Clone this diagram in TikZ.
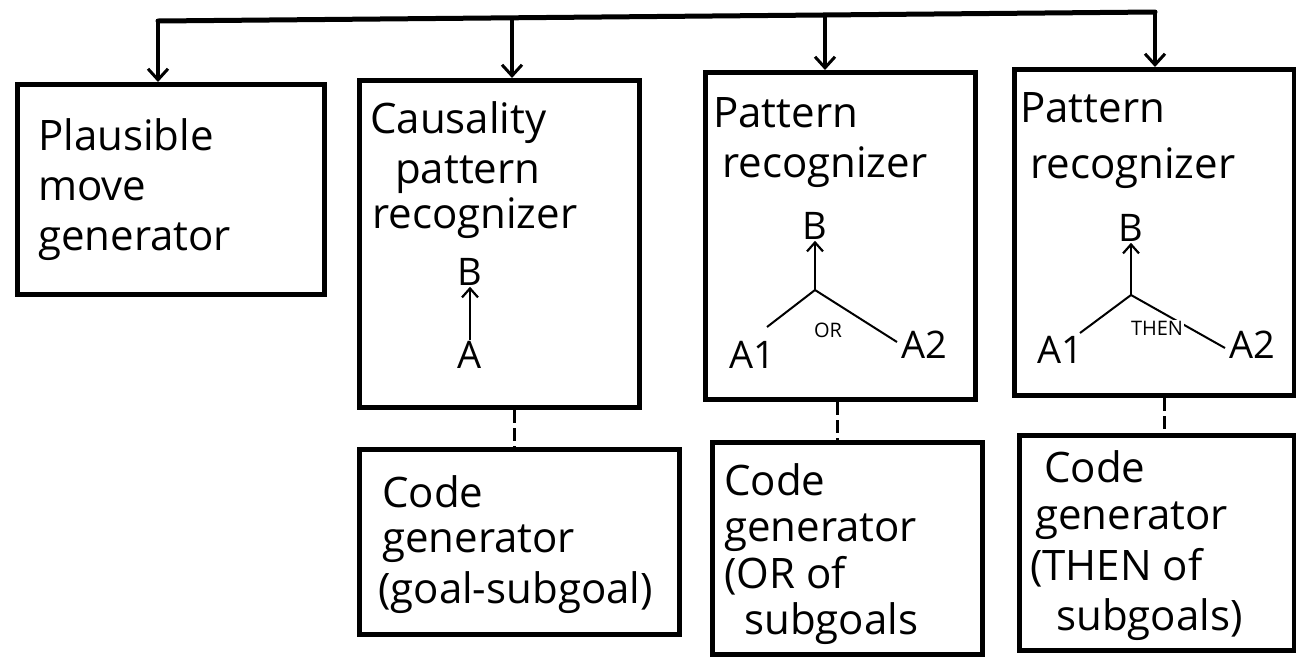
\documentclass[tikz,border=0pt]{standalone}
\usepackage{fontspec}
\setmainfont{Open Sans}
\usetikzlibrary{arrows.meta}

\tikzset{
  box/.style={draw, line width=5pt, rectangle, anchor=north west, inner sep=0pt},
  txt/.style={anchor=base west, inner sep=0pt, font=\fontsize{42}{50}\selectfont},
  sym/.style={inner sep=1pt, font=\fontsize{38}{44}\selectfont},
  tiny/.style={inner sep=1pt, font=\fontsize{20}{22}\selectfont},
  bus/.style={line width=5pt, line cap=round},
  drop/.style={line width=3.5pt, -{Straight Barb[length=11pt,width=20pt,line width=3pt]}},
  inner/.style={line width=2pt},
  up/.style={line width=2.5pt, -{Straight Barb[length=9pt,width=16pt,line width=2.2pt]}},
  link/.style={line width=3pt, dash pattern=on 13pt off 5pt},
}

\begin{document}
\begin{tikzpicture}[x=1pt,y=-1pt]
\useasboundingbox (0,0) rectangle (1296,657);

% upper row of boxes
\node[box, minimum width=307pt, minimum height=210pt] (pmg) at (15,82) {};
\node[box, minimum width=280pt, minimum height=327pt] (cpr) at (357,78) {};
\node[box, minimum width=270pt, minimum height=327pt] (por) at (703,70) {};
\node[box, minimum width=280pt, minimum height=326pt] (pth) at (1012,67) {};

% lower row of boxes
\node[box, minimum width=320pt, minimum height=185pt] (cg1) at (357,447) {};
\node[box, minimum width=270pt, minimum height=212pt] (cg2) at (710,440) {};
\node[box, minimum width=275pt, minimum height=215pt] (cg3) at (1017,433) {};

% distribution bus along the top
\coordinate (j1) at (158,21);
\coordinate (j2) at (512,18);
\coordinate (j3) at (825,15);
\coordinate (j4) at (1155,12);
\draw[bus] (j1) -- (j4);
\draw[drop] (j1) -- (j1 |- pmg.north);
\draw[drop] (j2) -- (j2 |- cpr.north);
\draw[drop] (j3) -- (j3 |- por.north);
\draw[drop] (j4) -- (j4 |- pth.north);

% recognizers hand over to their code generators
\draw[link] ([xshift=15pt]cpr.south) -- ([xshift=15pt]cpr.south |- cg1.north);
\draw[link] ([xshift=0pt]por.south -| j3) ++(12pt,0) coordinate (l2) -- (l2 |- cg2.north);
\draw[link] ([xshift=10pt]pth.south) -- ([xshift=10pt]pth.south |- cg3.north);

% box texts
\node[txt] (pmg1) at (38,150) {Plausible};
\node[txt] (pmg2) at (38,200) {move};
\node[txt] (pmg3) at (38,250) {generator};

\node[txt] (cpr1) at (370,133) {Causality};
\node[txt] (cpr2) at (395,183) {pattern};
\node[txt] (cpr3) at (372,228) {recognizer};

\node[txt] (por1) at (713,127) {Pattern};
\node[txt] (por2) at (722,177) {recognizer};

\node[txt] (pth1) at (1020,122) {Pattern};
\node[txt] (pth2) at (1030,178) {recognizer};

\node[txt] (cg11) at (382,507) {Code};
\node[txt] (cg12) at (382,552) {generator};
\node[txt] (cg13) at (378,603) {(goal-subgoal)};

\node[txt] (cg21) at (724,495) {Code};
\node[txt] (cg22) at (724,541) {generator};
\node[txt] (cg23) at (724,588) {(OR of};
\node[txt] (cg24) at (744,634) {subgoals};

\node[txt] (cg31) at (1044,482) {Code};
\node[txt] (cg32) at (1035,529) {generator};
\node[txt] (cg33) at (1030,580) {(THEN of};
\node[txt] (cg34) at (1056,630) {subgoals)};

% causality: A leads to B
\node[sym] (cb) at (470,272) {B};
\node[sym] (ca) at (470,355) {A};
\draw[up] (ca.north) -- (cb.south);

% OR pattern
\node[sym] (ob) at (815,226) {B};
\node[sym] (oa1) at (752,355) {A1};
\node[sym] (oa2) at (924,345) {A2};
\coordinate (oj) at (815,290);
\coordinate (ol) at (767,327);
\coordinate (or) at (897,342);
\draw[up] (oj) -- (ob.south);
\draw[inner] (oj) -- (ol);
\draw[inner] (oj) -- (or);
\node[tiny] (oor) at (828,330) {OR};

% THEN pattern
\node[sym] (tb) at (1131,228) {B};
\node[sym] (ta1) at (1060,350) {A1};
\node[sym] (ta2) at (1252,345) {A2};
\coordinate (tj) at (1131,295);
\coordinate (tl) at (1080,333);
\coordinate (tr) at (1225,348);
\draw[up] (tj) -- (tb.south);
\draw[inner] (tj) -- (tl);
\draw[inner] (tj) -- (tr);
\node[tiny, fill=white] (tthen) at (1157,328) {THEN};
\end{tikzpicture}
\end{document}
